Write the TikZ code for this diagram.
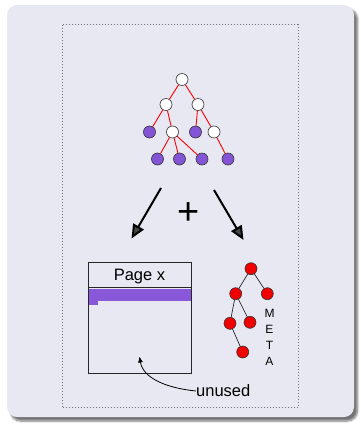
\documentclass[tikz,border=0pt]{standalone}
\usepackage{fontspec}
\setmainfont{Liberation Sans}
\usetikzlibrary{arrows.meta,shadows.blur}
\definecolor{panel}{RGB}{232,232,243}
\definecolor{leafpurple}{RGB}{132,84,214}
\definecolor{barpurple}{RGB}{136,88,216}
\definecolor{metared}{RGB}{240,0,0}
\begin{document}
\begin{tikzpicture}[x=1pt,y=-1pt,
  vtx/.style={circle,draw=black!80,line width=0.6pt,minimum size=12pt,inner sep=0pt},
  inner/.style={vtx,fill=white},
  leaf/.style={vtx,fill=leafpurple},
  metanode/.style={vtx,fill=metared,draw=black!80},
  redge/.style={red,line width=0.9pt},
  bedge/.style={black!85,line width=0.7pt},
  bigarrow/.style={line width=2pt,-{Triangle[length=14pt,width=12pt]}},
  label/.style={font=\fontsize{16.5}{19}\selectfont,inner sep=0pt},
]
\useasboundingbox (0,0) rectangle (360,424);
% slide panel with its drop shadow
\path[fill=panel,rounded corners=10pt,
  blur shadow={shadow xshift=3.5pt,shadow yshift=-4pt,shadow blur steps=6,shadow blur radius=2pt,shadow opacity=55}]
  (7,5) rectangle (354,417);
\draw[black!55,dash pattern=on 0.9pt off 2.1pt,line width=0.9pt] (62,24.5) rectangle (298,407.5);

% B-tree of pages
\node[inner] (r)   at (182,79.5) {};
\node[inner] (a)   at (166,104.5) {};
\node[inner] (b)   at (198,104.5) {};
\node[leaf]  (a1)  at (149.5,132) {};
\node[inner] (a2)  at (172.5,132) {};
\node[leaf]  (b1)  at (195.5,132) {};
\node[inner] (b2)  at (214,132) {};
\node[leaf]  (c1)  at (157.5,159) {};
\node[leaf]  (c2)  at (179.5,159) {};
\node[leaf]  (c3)  at (202,159) {};
\node[leaf]  (d1)  at (228,159) {};
\draw[redge] (r) -- (a);
\draw[redge] (r) -- (b);
\draw[redge] (a) -- (a1);
\draw[redge] (a) -- (a2);
\draw[redge] (b) -- (b1);
\draw[redge] (b) -- (b2);
\draw[redge] (a2) -- (c1);
\draw[redge] (a2) -- (c2);
\draw[redge] (a2) -- (c3);
\draw[redge] (b2) -- (d1);

% split into page data and metadata
\coordinate (ls) at (161,188);
\coordinate (le) at (131.5,238.5);
\coordinate (rs) at (214,190);
\coordinate (re) at (243.5,240);
\draw[bigarrow] (ls) -- (le);
\draw[bigarrow] (rs) -- (re);
\node[inner sep=0pt,font=\fontsize{38}{40}\selectfont] (plus) at (189,214) {+};

% page
\fill[barpurple] (88,289) rectangle (191,300.7);
\fill[barpurple] (88,300.7) rectangle (97.7,304.7);
\node[draw=black!85,line width=0.9pt,minimum width=103pt,minimum height=111pt,inner sep=0pt,anchor=north west] (page) at (88,262.3) {};
\draw[black!85,line width=0.9pt] (88,287.8) -- (191,287.8);
\node[label] (title) at (139.5,276.5) {Page x};
\node[label,anchor=west] (unused) at (196,391) {unused};
\coordinate (hole) at (139.5,356.5);
\draw[black,line width=0.8pt,-{Latex[length=6pt,width=5pt]}] (unused.west) .. controls (166,388) and (143,378) .. (hole);

% metadata tree
\node[metanode] (m)   at (251,268.7) {};
\node[metanode] (ma)  at (235.7,293.7) {};
\node[metanode] (mb)  at (267.3,293.7) {};
\node[metanode] (maa) at (230,323.3) {};
\node[metanode] (mab) at (250,322.3) {};
\node[metanode] (mc)  at (242.7,352) {};
\draw[bedge] (m) -- (ma);
\draw[bedge] (m) -- (mb);
\draw[bedge] (ma) -- (maa);
\draw[bedge] (ma) -- (mab);
\draw[bedge] (maa) -- (mc);
\node[align=center,inner sep=0pt,font=\fontsize{12}{16}\selectfont] (meta) at (269.5,337.5) {M\\E\\T\\A};
\end{tikzpicture}
\end{document}
